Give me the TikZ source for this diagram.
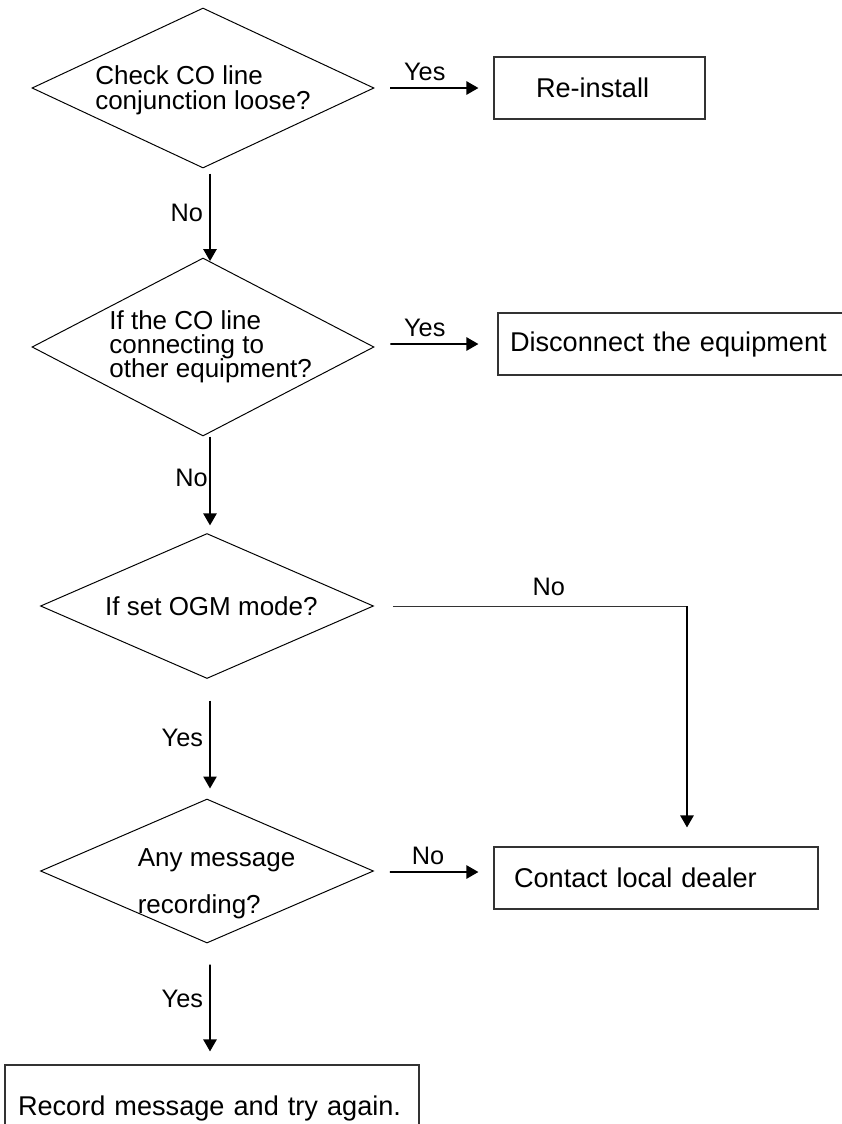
\documentclass[tikz,border=0pt]{standalone}
\usepackage{fontspec}
\setmainfont{Liberation Sans}
\usetikzlibrary{shapes.geometric,arrows.meta}
\begin{document}
\begin{tikzpicture}[>={Triangle[length=0.3cm,width=0.33cm]},
  decision/.style={draw, diamond, inner sep=0pt, line width=0.7pt},
  qtext/.style={align=left, inner sep=0pt, font={\fontsize{18.5}{17.8}\selectfont\lineskiplimit=-20pt}},
  action/.style={draw=black!80, rectangle, line width=0.8pt, align=left, minimum height=1.55cm, inner xsep=0.3cm, font={\fontsize{19.3}{23}\selectfont}},
  flow/.style={->, line width=1.4pt},
  lbl/.style={font={\fontsize{18}{21}\selectfont}, inner sep=0.15cm}]
  \useasboundingbox (0,0) rectangle (21.05,-28.1);
  \clip (0,0) rectangle (21.05,-28.1);
  \node[decision, minimum width=8.55cm, minimum height=4cm] (d1) at (5.075,-2.2) {};
  \node[qtext] (t1) at ([yshift=-0.05cm]d1) {Check CO line\\conjunction loose?};
  \node[decision, minimum width=8.55cm, minimum height=4.45cm] (d2) at (5.075,-8.675) {};
  \node[qtext, font={\fontsize{18.5}{17}\selectfont\lineskiplimit=-20pt}] (t2) at ([xshift=0.19cm]d2) {If the CO line\\connecting to\\other equipment?};
  \node[decision, minimum width=8.325cm, minimum height=3.625cm] (d3) at (5.175,-15.15) {};
  \node[qtext] (t3) at ([xshift=0.11cm]d3) {If set OGM mode?};
  \node[decision, minimum width=8.325cm, minimum height=3.6cm] (d4) at (5.175,-21.775) {};
  \node[qtext] (t4) at ([xshift=0.24cm,yshift=-0.33cm]d4) {Any message\\[0.55cm]recording?};
  \node[action, text width=3.175cm, inner xsep=1.05cm] (b1) at (14.9875,-2.2) {Re-install};
  \node[action, text width=8.2cm] (b2) at (16.85,-8.6) {Disconnect the equipment};
  \node[action, text width=7.1cm, inner xsep=0.5cm] (b4) at (16.4,-21.95) {Contact local dealer};
  \node[action, text width=9.7cm, inner xsep=0.325cm, minimum height=2.15cm] (b5) at (5.3,-27.7) {Record message and try again.};
  \draw[flow] ([xshift=0.4cm]d1.east) -- node[lbl, above, pos=0.39] {Yes} ([xshift=-0.375cm]b1.west);
  \draw[flow] ([xshift=0.4cm,yshift=0.075cm]d2.east) -- node[lbl, above, pos=0.39] {Yes} ([xshift=-0.475cm]b2.west);
  \draw[flow] ([xshift=0.4cm,yshift=-0.025cm]d4.east) -- node[lbl, above, pos=0.43] {No} ([xshift=-0.375cm,yshift=0.15cm]b4.west);
  \draw[flow] ([xshift=0.175cm,yshift=-0.125cm]d1.south) -- node[lbl, left, pos=0.45] {No} ([xshift=0.175cm,yshift=-0.09cm]d2.north);
  \draw[flow] ([xshift=0.175cm]d2.south) -- node[lbl, left, pos=0.47, inner sep=0.03cm] {No} ([xshift=0.075cm,yshift=0.19cm]d3.north);
  \draw[flow] ([xshift=0.075cm,yshift=-0.54cm]d3.south) -- node[lbl, left, pos=0.42] {Yes} ([xshift=0.075cm,yshift=0.25cm]d4.north);
  \draw[flow] ([xshift=0.075cm,yshift=-0.525cm]d4.south) -- node[lbl, left, pos=0.4] {Yes} ([xshift=-0.05cm,yshift=0.325cm]b5.north);
  \coordinate (bend) at (17.175,-15.15);
  \draw[line width=0.7pt, draw=black!80] ([xshift=0.475cm]d3.east) -- node[lbl, above, pos=0.53, inner sep=0.25cm] {No} (bend);
  \draw[flow] (bend) -- ([xshift=0.775cm,yshift=0.475cm]b4.north);
\end{tikzpicture}
\end{document}
